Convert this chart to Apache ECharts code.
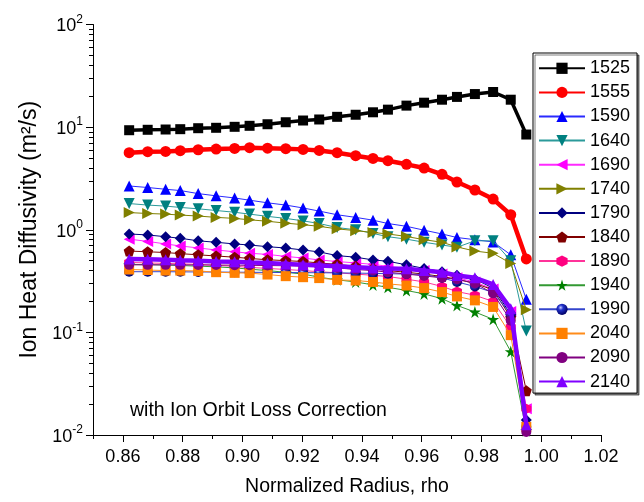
<!DOCTYPE html>
<html><head><meta charset="utf-8">
<script src="https://cdn.jsdelivr.net/npm/echarts@6/dist/echarts.min.js"></script>
<style>html,body{margin:0;padding:0;background:#fff}#c{width:644px;height:502px}</style>
</head><body><div id="c"></div>
<script>
// ---- data ----
const rho = [0.8621, 0.8683, 0.8743, 0.8792, 0.8852, 0.8912, 0.8974, 0.9024, 0.9084, 0.9145, 0.9203, 0.9257,
             0.9317, 0.9379, 0.9437, 0.9487, 0.9549, 0.9608, 0.9668, 0.9718, 0.9778, 0.9839, 0.9898, 0.9950];
const seriesNames = ['1525','1555','1590','1640','1690','1740','1790','1840','1890','1940','1990','2040','2090','2140'];
const v1525 = [9.33, 9.42, 9.48, 9.55, 9.76, 9.85, 10.07, 10.30, 10.67, 11.16, 11.6, 11.87, 12.6, 13.2, 13.95, 14.8, 16.2, 17.3, 18.5, 19.7, 21.0, 22.0, 18.5, 8.47];
const v1555 = [5.63, 5.76, 5.80, 5.89, 6.02, 6.11, 6.20, 6.30, 6.24, 6.16, 6.07, 5.93, 5.63, 5.27, 4.95, 4.71, 4.34, 3.99, 3.47, 2.92, 2.44, 1.99, 1.40, 0.52];
const v1590 = [2.67, 2.58, 2.48, 2.41, 2.25, 2.14, 2.04, 1.94, 1.83, 1.74, 1.63, 1.52, 1.40, 1.32, 1.24, 1.15, 1.08, 0.99, 0.91, 0.84, 0.80, 0.76, 0.57, 0.21];
const v1640 = [1.80, 1.74, 1.70, 1.65, 1.60, 1.54, 1.48, 1.42, 1.35, 1.29, 1.22, 1.15, 1.05, 1.00, 0.92, 0.855, 0.81, 0.755, 0.71, 0.675, 0.78, 0.78, 0.50, 0.103];
const v1690 = [0.81, 0.77, 0.727, 0.695, 0.665, 0.635, 0.61, 0.59, 0.575, 0.55, 0.53, 0.508, 0.49, 0.475, 0.46, 0.44, 0.42, 0.40, 0.37, 0.34, 0.31, 0.265, 0.16, 0.018];
const v1740 = [1.47, 1.44, 1.42, 1.39, 1.36, 1.32, 1.29, 1.25, 1.21, 1.16, 1.12, 1.08, 1.02, 0.98, 0.94, 0.91, 0.86, 0.80, 0.755, 0.68, 0.62, 0.59, 0.47, 0.166];
const v1790 = [0.91, 0.89, 0.855, 0.826, 0.78, 0.755, 0.727, 0.71, 0.684, 0.664, 0.635, 0.608, 0.56, 0.54, 0.508, 0.493, 0.455, 0.42, 0.39, 0.36, 0.33, 0.27, 0.15, 0.014];
const v1840 = [0.62, 0.61, 0.60, 0.585, 0.57, 0.555, 0.54, 0.525, 0.51, 0.50, 0.49, 0.475, 0.46, 0.44, 0.42, 0.40, 0.385, 0.37, 0.35, 0.33, 0.30, 0.26, 0.14, 0.027];
const v1890 = [0.48, 0.475, 0.47, 0.465, 0.46, 0.45, 0.44, 0.43, 0.42, 0.41, 0.40, 0.39, 0.38, 0.37, 0.36, 0.35, 0.33, 0.31, 0.28, 0.25, 0.23, 0.20, 0.113, 0.018];
const v1940 = [0.46, 0.457, 0.453, 0.448, 0.442, 0.435, 0.425, 0.413, 0.40, 0.385, 0.37, 0.345, 0.325, 0.31, 0.29, 0.275, 0.256, 0.237, 0.213, 0.183, 0.158, 0.134, 0.065, 0.011];
const v1990 = [0.39, 0.39, 0.39, 0.389, 0.388, 0.387, 0.386, 0.385, 0.384, 0.383, 0.382, 0.381, 0.38, 0.378, 0.376, 0.373, 0.37, 0.366, 0.34, 0.31, 0.28, 0.245, 0.15, 0.012];
const v2040 = [0.41, 0.405, 0.40, 0.40, 0.397, 0.386, 0.38, 0.378, 0.366, 0.353, 0.345, 0.338, 0.325, 0.32, 0.31, 0.297, 0.286, 0.27, 0.247, 0.224, 0.205, 0.177, 0.094, 0.012];
const v2090 = [0.455, 0.455, 0.455, 0.455, 0.454, 0.453, 0.452, 0.45, 0.448, 0.446, 0.444, 0.44, 0.425, 0.41, 0.40, 0.386, 0.37, 0.355, 0.34, 0.33, 0.30, 0.24, 0.13, 0.0107];
const v2140 = [0.52, 0.516, 0.51, 0.505, 0.50, 0.49, 0.487, 0.48, 0.475, 0.465, 0.455, 0.448, 0.44, 0.43, 0.425, 0.42, 0.416, 0.40, 0.386, 0.358, 0.34, 0.293, 0.17, 0.0126];
const seriesValues = [v1525, v1555, v1590, v1640, v1690, v1740, v1790, v1840, v1890, v1940, v1990, v2040, v2090, v2140];

const xLabelTicks = [0.86, 0.88, 0.90, 0.92, 0.94, 0.96, 0.98, 1.00, 1.02];
const xMinorTicks = [0.85, 0.87, 0.89, 0.91, 0.93, 0.95, 0.97, 0.99, 1.01];
const yMajorTicks = [0.01, 0.1, 1, 10, 100];
const yMinorTicks = [0.02,0.03,0.04,0.05,0.06,0.07,0.08,0.09, 0.2,0.3,0.4,0.5,0.6,0.7,0.8,0.9,
                     2,3,4,5,6,7,8,9, 20,30,40,50,60,70,80,90];

// ---- styles ----
const P = {
  tri: 'triangle',
  down: 'path://M0,0 L10,0 L5,9 Z',
  left: 'path://M0,5 L9,0 L9,10 Z',
  right: 'path://M0,0 L9,5 L0,10 Z',
  pent: 'path://M50,0 L97.55,34.55 L79.39,90.45 L20.61,90.45 L2.45,34.55 Z',
  hex: 'path://M50,0 L93.3,25 L93.3,75 L50,100 L6.7,75 L6.7,25 Z',
  star: 'path://M50,0 L61.17,34.63 L97.55,34.55 L68.07,55.87 L79.39,90.45 L50,69 L20.61,90.45 L31.93,55.87 L2.45,34.55 L38.83,34.63 Z'
};
const sphere = {type:'radial', x:0.38, y:0.35, r:0.65, colorStops:[{offset:0,color:'#c8ccff'},{offset:0.35,color:'#2233cc'},{offset:1,color:'#000066'}]};
const styles = [
  {color:'#000000', line:'#000000', symbol:'rect', size:10, width:3.5},
  {color:'#ff0000', line:'#ff0000', symbol:'circle', size:11, width:4.5},
  {color:'#0000ff', line:'#2a2aff', symbol:P.tri, size:11, width:1},
  {color:'#008080', line:'#2b9a9a', symbol:P.down, size:11, width:1},
  {color:'#ff00ff', line:'#ff2aff', symbol:P.left, size:11, width:1},
  {color:'#808000', line:'#808000', symbol:P.right, size:11, width:1},
  {color:'#000080', line:'#000080', symbol:'diamond', size:11, width:1},
  {color:'#800000', line:'#800000', symbol:P.pent, size:11, width:1},
  {color:'#ff0080', line:'#ff3399', symbol:P.hex, size:10, width:1},
  {color:'#008000', line:'#339933', symbol:P.star, size:12, width:1},
  {color:sphere, line:'#3344cc', symbol:'circle', size:10, width:1},
  {color:'#ff8000', line:'#ff8c1a', symbol:'rect', size:10, width:1},
  {color:'#800080', line:'#800080', symbol:'circle', size:10, width:1},
  {color:'#8000ff', line:'#8000ff', symbol:P.tri, size:11, width:4.5}
];

const FONT = "'Liberation Sans', Arial, sans-serif";
const series = seriesNames.map((name, k) => ({
  name: name,
  type: 'line',
  xAxisIndex: 0, yAxisIndex: 0,
  data: rho.map((r, i) => [r, seriesValues[k][i]]),
  symbol: styles[k].symbol,
  symbolSize: styles[k].size,
  showAllSymbol: true,
  lineStyle: {color: styles[k].line, width: styles[k].width},
  itemStyle: {color: styles[k].color, borderWidth: 0},
  emphasis: {disabled: true},
  z: 2 + k
}));

const chart = echarts.init(document.getElementById('c'), null, {renderer: 'canvas'});
chart.setOption({
  animation: false,
  backgroundColor: '#ffffff',
  textStyle: {fontFamily: FONT, color: '#000'},
  grid: {left: 93, right: 43, top: 24.5, bottom: 65},
  xAxis: [
    {type: 'value', min: 0.85, max: 1.02, position: 'bottom',
     axisLine: {show: true, onZero: false, lineStyle: {color: '#000', width: 1}},
     axisTick: {show: true, customValues: xLabelTicks, length: 7, lineStyle: {color: '#000', width: 1}},
     axisLabel: {customValues: xLabelTicks, formatter: v => v.toFixed(2), fontSize: 18, color: '#000', margin: 13, fontFamily: FONT},
     splitLine: {show: false},
     name: 'Normalized Radius, rho', nameLocation: 'middle', nameGap: 42,
     nameTextStyle: {fontSize: 19.5, color: '#000', fontFamily: FONT}},
    {type: 'value', min: 0.85, max: 1.02, position: 'bottom',
     axisLine: {show: false, onZero: false},
     axisTick: {show: true, customValues: xMinorTicks, length: 4, lineStyle: {color: '#000', width: 1}},
     axisLabel: {show: false}, splitLine: {show: false}}
  ],
  yAxis: [
    {type: 'log', logBase: 10, min: 0.01, max: 100, position: 'left',
     axisLine: {show: true, lineStyle: {color: '#000', width: 1}},
     axisTick: {show: true, length: 7, lineStyle: {color: '#000', width: 1}},
     axisLabel: {
       formatter: v => '{a|10}{b|' + Math.round(Math.log10(v)) + '}',
       margin: 10,
       rich: {
         a: {fontSize: 18, color: '#000', fontFamily: FONT, lineHeight: 22, verticalAlign: 'bottom'},
         b: {fontSize: 12, color: '#000', fontFamily: FONT, lineHeight: 22, verticalAlign: 'top', padding: [0, 0, 8, 0]}
       }
     },
     splitLine: {show: false}, minorSplitLine: {show: false},
     name: 'Ion Heat Diffusivity (m²/s)', nameLocation: 'middle', nameGap: 50,
     nameTextStyle: {fontSize: 23, color: '#000', fontFamily: FONT}},
    {type: 'log', logBase: 10, min: 0.01, max: 100, position: 'left',
     axisLine: {show: false},
     axisTick: {show: true, customValues: yMinorTicks, length: 4, lineStyle: {color: '#000', width: 1}},
     axisLabel: {show: false}, splitLine: {show: false}}
  ],
  legend: {
    orient: 'vertical', left: 533, top: 53,
    itemWidth: 46, itemHeight: 14, itemGap: 4.1,
    padding: [5.3, 7, 1.5, 5],
    borderColor: '#000', borderWidth: 1, backgroundColor: '#fff',
    shadowColor: 'rgba(0,0,0,0.5)', shadowOffsetX: 2, shadowOffsetY: 2, shadowBlur: 0,
    selectedMode: false,
    textStyle: {fontSize: 18, color: '#000', fontFamily: FONT, lineHeight: 20},
    data: seriesNames
  },
  graphic: [{
    type: 'text', left: 130, top: 401, z: 100,
    style: {text: 'with Ion Orbit Loss Correction', fontSize: 19.5, fill: '#000', fontFamily: FONT}
  }],
  series: series
});
</script></body></html>
